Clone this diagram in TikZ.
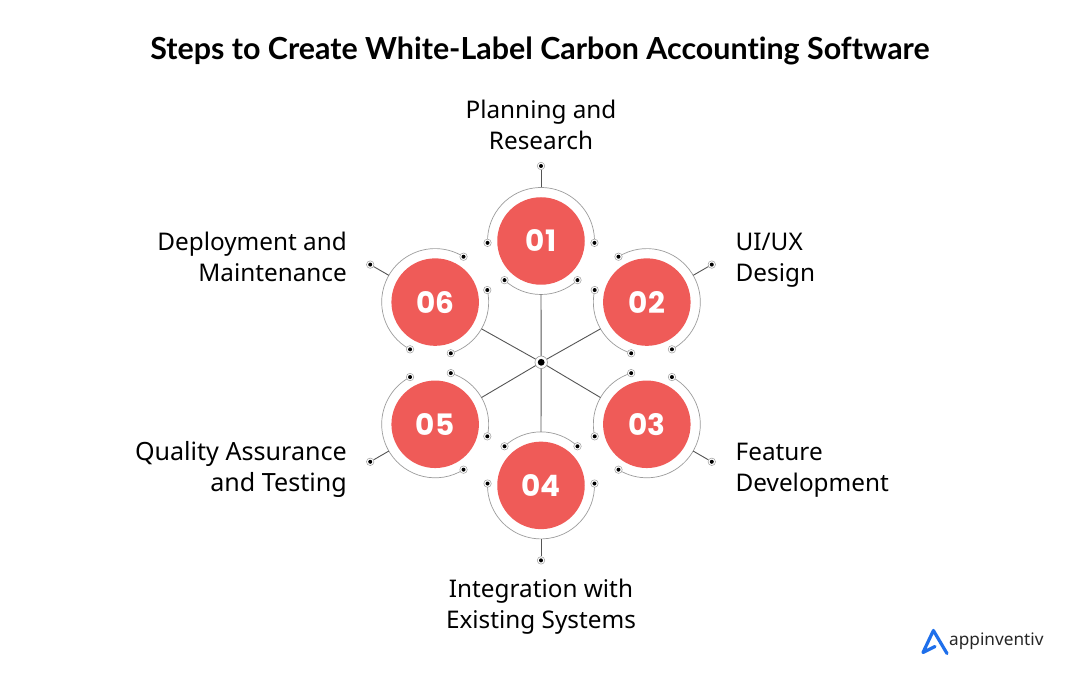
\documentclass[tikz,border=0pt]{standalone}
\usepackage{fontspec}
\setmainfont{Noto Sans}
\newfontfamily\numfont{Poppins}
\newfontfamily\titlefont[Ligatures=NoCommon]{Lato}
\definecolor{coral}{HTML}{EF5B58}
\definecolor{ringgray}{HTML}{9C9C9C}
\definecolor{linkgray}{HTML}{555555}
\definecolor{logoblue}{HTML}{1E6FEB}
\usetikzlibrary{calc}
\tikzset{
  disc/.style={circle,fill=coral,minimum size=87.5pt,inner sep=0pt,text=white,font=\numfont\bfseries\fontsize{29.5}{30}\selectfont},
  ring/.style={draw=ringgray,line width=0.7pt},
  link/.style={draw=linkgray,line width=0.9pt},
  enddot/.style={circle,draw=ringgray,line width=0.5pt,fill=white,minimum size=7.5pt,inner sep=0pt,path picture={\fill[black] (path picture bounding box.center) circle (2pt);}},
  hubdot/.style={circle,draw=ringgray,line width=0.6pt,fill=white,minimum size=12.5pt,inner sep=0pt,path picture={\fill[black] (path picture bounding box.center) circle (3.4pt);}},
  lab/.style={font=\fontsize{24.3}{31}\selectfont,inner sep=0pt,text=black},
  labr/.style={lab,align=right,anchor=east},
  labl/.style={lab,align=left,anchor=west},
  labc/.style={lab,align=center,anchor=center},
}
\begin{document}
\begin{tikzpicture}[x=1pt,y=1pt]
\useasboundingbox (0,0) rectangle (1080,682);
\fill[white] (0,0) rectangle (1080,682);
\node[font=\titlefont\bfseries\fontsize{30.4}{32}\selectfont,inner sep=0pt] (title) at (540,631.5) {Steps to Create White-Label Carbon Accounting Software};
\coordinate (hubc) at (541.2,319.7);
\coordinate (ctr) at (541,318.8);
\foreach \i/\n in {1/01,2/02,3/03,4/04,5/05,6/06}{
  \pgfmathsetmacro{\a}{90-60*(\i-1)}
  \pgfmathsetmacro{\big}{\a+92}
  \pgfmathsetmacro{\small}{\a+137}
  \coordinate (c\i) at ($(ctr)+(\a:122.2)$);
  \coordinate (bigs\i) at ($(c\i)+(\big:53.5)$);
  \coordinate (smas\i) at ($(c\i)+(\small:53.5)$);
  \coordinate (bige\i) at ($(c\i)+(\a-92:53.5)$);
  \coordinate (smae\i) at ($(c\i)+(\a+223:53.5)$);
  \coordinate (rout\i) at ($(c\i)+(\a:53.5)$);
  \coordinate (rin\i) at ($(c\i)+(\a+180:53.5)$);
  \coordinate (outc\i) at ($(c\i)+(\a:75)$);
  \draw[ring] (bigs\i) arc[start angle=\big,delta angle=-184,radius=53.5];
  \draw[ring] (smas\i) arc[start angle=\small,delta angle=86,radius=53.5];
  \node[enddot] (o\i) at (outc\i) {};
  \draw[link] (rout\i) -- (o\i);
  \draw[link] (rin\i) -- (hubc);
  \node[enddot] (p\i) at (bigs\i) {};
  \node[enddot] (q\i) at (bige\i) {};
  \node[enddot] (r\i) at (smas\i) {};
  \node[enddot] (s\i) at (smae\i) {};
  \node[disc] (d\i) at (c\i) {\n};
}
\node[hubdot] (hub) at (hubc) {};
\node[labc] (l1) at (541,557) {Planning and\\Research};
\node[labl] (l2) at (735.5,421.5) {UI/UX\\Design};
\node[labl] (l3) at (735.5,211.5) {Feature\\Development};
\node[labc] (l4) at (541,75.5) {Integration with\\Existing Systems};
\node[labr,font=\fontsize{25.1}{31}\selectfont] (l5) at (347,212.5) {Quality Assurance\\and Testing};
\node[labr] (l6) at (347,425) {Deployment and\\Maintenance};
\draw[logoblue,line width=3.2pt,line join=round,line cap=round] (935,35.5) -- (923,29.5) -- (933.4,51.5) -- (947,28.5);
\node[font=\fontsize{17.2}{20}\selectfont,inner sep=0pt,anchor=west,text=black!85] (logo) at (949,41) {appinventiv};
\end{tikzpicture}
\end{document}
